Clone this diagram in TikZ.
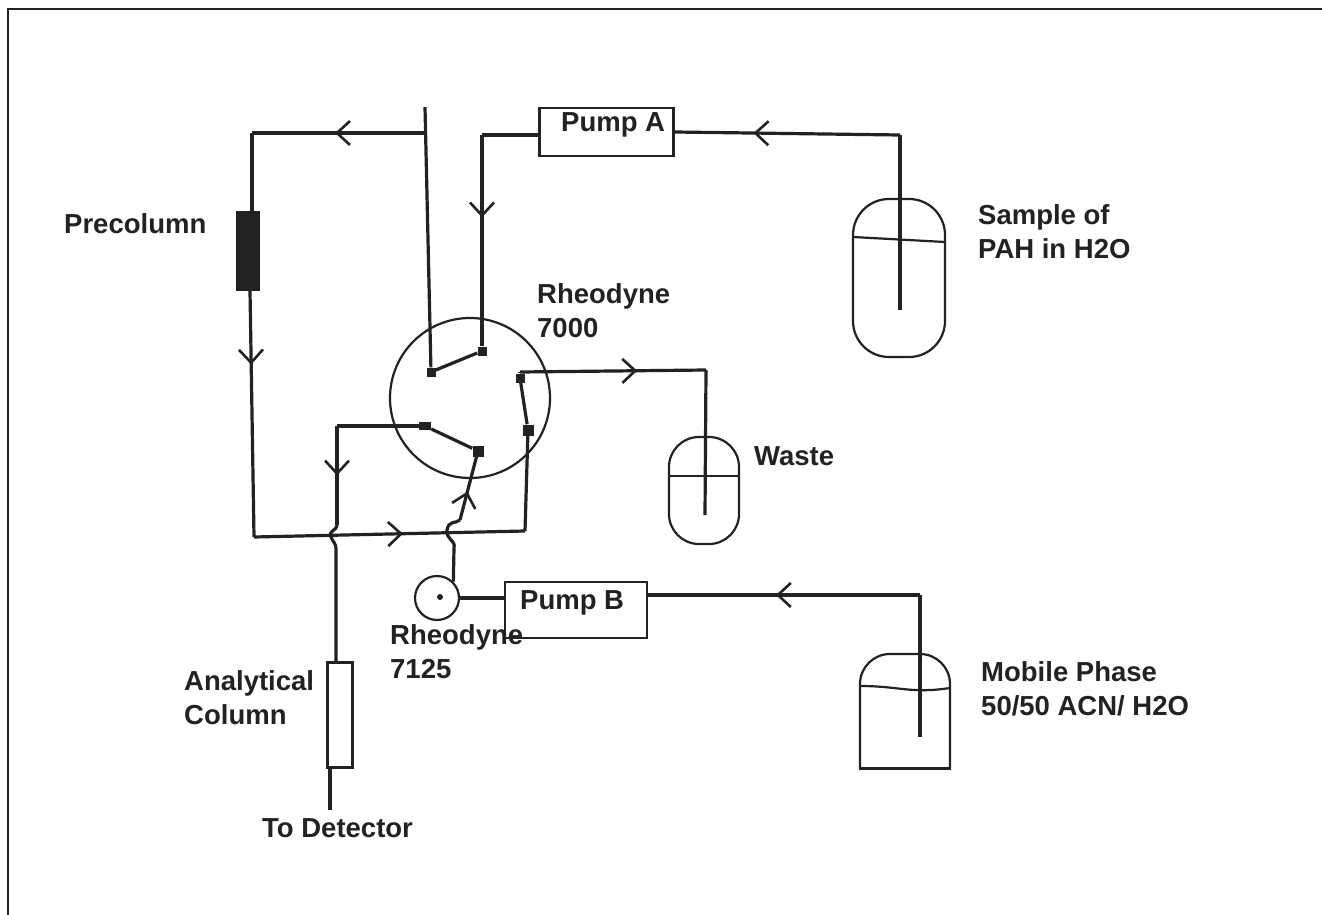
\documentclass[tikz,border=0pt]{standalone}
\usepackage{fontspec}
\setmainfont{Liberation Sans}
\usetikzlibrary{calc,positioning,arrows.meta,decorations.markings}
\definecolor{scanink}{HTML}{222222}

\tikzset{
  tube/.style={draw=scanink,line width=3.2pt,line join=round},
  thinln/.style={draw=scanink,line width=2.2pt},
  flow/.style={postaction={decorate,decoration={markings,mark=at position #1 with {\arrow[scanink,line width=2.6pt]{Straight Barb[length=13pt,width=24pt]}}}}},
  port/.style={fill=scanink,inner sep=0pt,minimum size=9pt},
  pumpbox/.style={thinln,fill=white,inner sep=0pt,minimum width=134pt,minimum height=48pt},
  bottle/.style={thinln,inner sep=0pt,minimum width=92pt,minimum height=158pt,rounded corners=36pt},
  lbl/.style={font=\bfseries\fontsize{27.5}{34}\selectfont,text=scanink,align=left,anchor=west,inner sep=0pt}
}

\begin{document}
\begin{tikzpicture}[x=1pt,y=-1pt]
\useasboundingbox (0,0) rectangle (1322,915);
\fill[white] (0,0) rectangle (1322,915);
\draw[thinln] (8,915) -- (8,9) -- (1322,9);

% valves
\node[thinln,circle,minimum size=160pt,inner sep=0pt] (v7000) at (470,398) {};
\node[thinln,circle,minimum size=44pt,inner sep=0pt] (v7125) at (437,598) {};
\node[fill=scanink,circle,minimum size=6pt,inner sep=0pt] (hub) at (440,597) {};
\node[port] (p1) at (431,372) {};\node[port] (p2) at (482,351) {};\node[port] (p3) at (520,378) {};
\node[port,minimum size=11pt] (p4) at (528,430) {};\node[port,minimum size=11pt] (p5) at (478,451) {};\node[port,minimum width=12pt,minimum height=8pt] (p6) at (425,426) {};

% pumps, columns, bottles
\node[pumpbox] (pumpA) at (606.5,132) {};
\node[pumpbox,minimum width=142pt,minimum height=56pt,fill=none] (pumpB) at (576,610) {};
\node[fill=scanink,draw=scanink,inner sep=0pt,minimum width=23pt,minimum height=79pt] (pre) at (248,251) {};
\node[thinln,inner sep=0pt,minimum width=25pt,minimum height=105pt] (ana) at (340,715) {};
\node[bottle] (sample) at (899,278) {};
\node[bottle,minimum width=70pt,minimum height=107pt,rounded corners=30pt] (waste) at (704,490.5) {};
\draw[thinln,rounded corners=30pt] (860,768) -- (860,654) -- (950,654) -- (950,768);
\draw[line width=3pt,draw=scanink] (859,768) -- (951,768);

% liquid levels
\draw[thinln] (853,237) -- (945,242);
\draw[thinln] (669,476) -- (739,476);
\draw[thinln] (860,686) .. controls (900,686) and (910,694) .. (950,688);

% bends and free ends
\coordinate (inlet) at (425,107);
\coordinate (corner1) at (425,133);
\coordinate (corner2) at (252,133);
\coordinate (corner3) at (254,537);
\coordinate (corner4) at (525,531);
\coordinate (corner5) at (482,135);
\coordinate (corner6) at (900,135);
\coordinate (dipA) at (900,310);
\coordinate (corner7) at (706,370);
\coordinate (dipW) at (705,515);
\coordinate (corner8) at (520,372);
\coordinate (corner9) at (337,426);
\coordinate (hopA) at (337,525);
\coordinate (hopB) at (460,520);
\coordinate (corner10) at (920,595);
\coordinate (dipM) at (920,737);
\coordinate (detector) at (330,810);

% tubing
\draw[tube] (inlet) -- (p1);
\draw[tube] (p1) -- (p2);
\draw[tube,flow=0.39] (corner5) -- (p2);
\draw[tube] (pumpA.west |- corner5) -- (corner5);
\draw[tube,flow=0.52] (corner1) -- (corner2);
\draw[tube] (corner2) -- (pre.north -| corner2);
\draw[tube,flow=0.3] (pre.south -| 250,0) -- (corner3);
\draw[tube,flow=0.55] (corner3) -- (corner4);
\draw[tube] (corner4) -- (p4);
\draw[tube] (p3) -- (p4);
\draw[tube,flow=0.63] (corner8) -- (corner7);
\draw[tube] (corner8) -- (p3);
\draw[tube] (corner7) -- (dipW);
\draw[tube] (p6) -- (corner9);
\draw[tube,flow=0.5] (corner9) -- (hopA);
\draw[tube] (hopA) .. controls (336,532) and (328,530) .. (331,537) .. controls (333,543) and (336,542) .. (336,550) -- (ana.north -| 336,0);
\draw[tube] (ana.south -| 330,0) -- (detector);
\draw[tube] (p6) -- (p5);
\draw[tube,flow=0.45] (hopB) -- (p5);
\draw[tube] (hopB) .. controls (455,524) and (449,520) .. (447,530) .. controls (446,540) and (456,540) .. (454,548) -- (v7125.north east);
\draw[tube] (v7125.east) -- (pumpB.west |- v7125.east);
\draw[tube,flow=0.65] (corner6) -- (pumpA.east);
\draw[tube] (corner6) -- (dipA);
\draw[tube,flow=0.53] (corner10) -- (pumpB.east |- corner10);
\draw[tube] (corner10) -- (dipM);

% labels
\node[lbl] (lpumpA) at (561,125) {Pump A};
\node[lbl] (lpumpB) at (520,603) {Pump B};
\node[lbl] (lpre) at (64,224) {Precolumn};
\node[lbl] (l7000) at (537,311) {Rheodyne\\7000};
\node[lbl] (l7125) at (390,652) {Rheodyne\\7125};
\node[lbl] (lana) at (184,698) {Analytical\\Column};
\node[lbl] (ldet) at (262,828) {To Detector};
\node[lbl] (lsample) at (978,232) {Sample of\\PAH in H2O};
\node[lbl] (lwaste) at (754,456) {Waste};
\node[lbl] (lmobile) at (981,689) {Mobile Phase\\50/50 ACN/ H2O};
\end{tikzpicture}
\end{document}
